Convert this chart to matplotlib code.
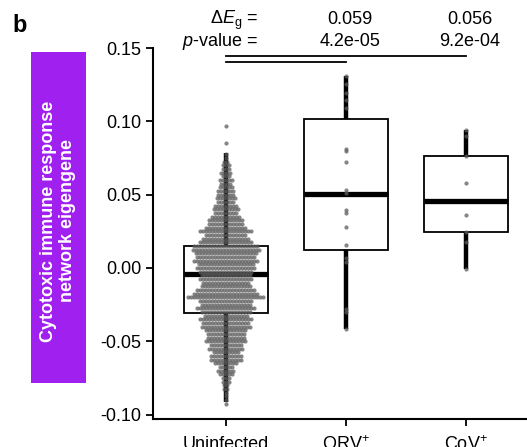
import matplotlib.pyplot as plt
import matplotlib.patches as mpatches
import numpy as np

plt.rcParams['font.family'] = ['Liberation Sans', 'DejaVu Sans']
plt.rcParams['mathtext.fontset'] = 'custom'
plt.rcParams['mathtext.rm'] = 'Liberation Sans'
plt.rcParams['mathtext.it'] = 'Liberation Sans:italic'

# groups
groups = ['Uninfected', 'ORV$^{+}$', 'CoV$^{+}$']

# uninfected: swarm read as rows (eigengene level, number of dots in row)
uninf_levels = np.round(np.arange(0.0775, -0.0926, -0.0025), 4)
uninf_counts = [1, 1, 2, 3, 3, 4, 3, 5, 4, 5, 6, 6, 7, 6, 8, 9, 8, 10, 12, 12,
                14, 18, 14, 16, 18, 22, 23, 21, 20, 22, 19, 20, 18, 17, 18, 16,
                17, 20, 22, 26, 18, 17, 20, 17, 15, 18, 16, 17, 14, 13, 13, 14,
                11, 12, 9, 11, 11, 8, 5, 6, 5, 3, 3, 2, 2, 1, 1, 1, 1]
uninf_outliers = [0.097, 0.085]

orv_values = [0.1312, 0.1253, 0.1196, 0.1146, 0.1089, 0.0812, 0.0798, 0.0723,
              0.0532, 0.0509, 0.0396, 0.0373, 0.0282, 0.0157, 0.0066, 0.0043,
              -0.0282, -0.0298, -0.0418]
cov_values = [0.0941, 0.0900, 0.0764, 0.0582, 0.0362, 0.0248, 0.0175, -0.0007]

# box statistics
q1 = [-0.0305, 0.0120, 0.0243]
med = [-0.0041, 0.0502, 0.0455]
q3 = [0.0150, 0.1016, 0.0764]
whislo = [-0.0915, -0.0418, -0.0007]
whishi = [0.0784, 0.1312, 0.0941]

# header annotations
delta_eg = ['0.059', '0.056']
pvals = ['4.2e-05', '9.2e-04']

fig = plt.figure(figsize=(5.27, 4.47), dpi=100)
ax = fig.add_axes([153 / 527, 1 - 419 / 447, 1 - 153 / 527, (419 - 48) / 447])

# swarm points
dx = 0.025
xs, ys = [], []
for lvl, n in zip(uninf_levels, uninf_counts):
    off = (np.arange(n) - (n - 1) / 2) * dx
    xs.extend(0 + off)
    ys.extend([lvl] * n)
for v in uninf_outliers:
    xs.append(0)
    ys.append(v)
xs += [1] * len(orv_values) + [2] * len(cov_values)
ys += orv_values + cov_values
ax.scatter(xs, ys, s=9, color='#5c5c5c', alpha=0.75, linewidths=0, zorder=3)

stats = []
for i in range(3):
    stats.append(dict(q1=q1[i], med=med[i], q3=q3[i], whislo=whislo[i],
                      whishi=whishi[i], fliers=[]))
ax.bxp(stats, positions=[0, 1, 2], widths=0.7, showcaps=False,
       patch_artist=True, manage_ticks=False,
       boxprops=dict(facecolor='none', edgecolor='black', linewidth=1.3),
       medianprops=dict(color='black', linewidth=3.8, solid_capstyle='butt'),
       whiskerprops=dict(color='black', linewidth=3.2, solid_capstyle='butt'),
       zorder=2)

# comparison lines
ax.plot([0, 2], [0.1445, 0.1445], color='black', lw=1.3)
ax.plot([0, 1], [0.1405, 0.1405], color='black', lw=1.3)

ax.set_xlim(-0.608, 2.508)
ax.set_ylim(-0.103, 0.15)
ax.set_xticks([0, 1, 2])
ax.set_xticklabels(groups)
ax.set_yticks([-0.10, -0.05, 0.00, 0.05, 0.10, 0.15])
ax.set_yticklabels(['-0.10', '-0.05', '0.00', '0.05', '0.10', '0.15'])
ax.tick_params(labelsize=13, width=1.3, length=5, color='black')
ax.tick_params(axis='x', pad=7)
for s in ['top', 'right']:
    ax.spines[s].set_visible(False)
for s in ['left', 'bottom']:
    ax.spines[s].set_linewidth(1.5)

# header text
fig.text(258 / 527, 1 - 20 / 447, r'Δ$E_{\mathrm{g}}$ =', ha='right', va='center', fontsize=13)
fig.text(258 / 527, 1 - 42 / 447, r'$p$-value =', ha='right', va='center', fontsize=13)
for i, xpx in enumerate([350, 470]):
    fig.text(xpx / 527, 1 - 20 / 447, delta_eg[i], ha='center', va='center', fontsize=13)
    fig.text(xpx / 527, 1 - 42 / 447, pvals[i], ha='center', va='center', fontsize=13)

# panel letter
fig.text(12 / 527, 1 - 25 / 447, 'b', ha='left', va='center', fontsize=17, fontweight='bold')

# purple y label box
fig.patches.append(mpatches.Rectangle((31 / 527, 1 - 383 / 447), 55 / 527, 331 / 447,
                                      transform=fig.transFigure, facecolor='#a020f0',
                                      edgecolor='none'))
fig.text(58 / 527, 1 - 221 / 447, 'Cytotoxic immune response\nnetwork eigengene',
         rotation=90, ha='center', va='center', color='white', fontsize=13,
         fontweight='bold', linespacing=1.1)

fig.savefig('out.png', dpi=100)
